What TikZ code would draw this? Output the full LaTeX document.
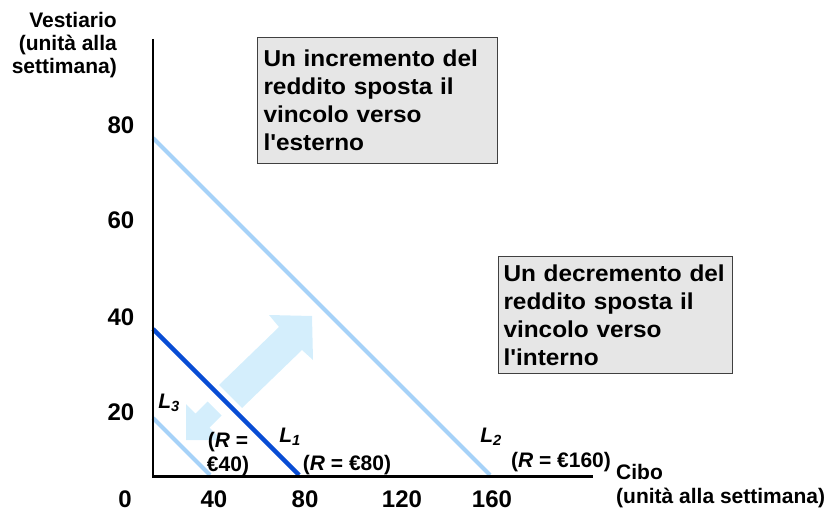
\documentclass[tikz,border=0pt]{standalone}
\usepackage{fontspec}
\setmainfont{Liberation Sans}
\newfontfamily\boxfont[FakeStretch=1.06]{Liberation Sans}
\definecolor{lone}{RGB}{8,76,212}
\definecolor{lpale}{RGB}{166,210,248}
\definecolor{arrowfill}{RGB}{212,238,252}
\definecolor{boxfill}{RGB}{230,230,230}
\definecolor{boxline}{RGB}{64,64,64}
\begin{document}
\begin{tikzpicture}[x=1pt,y=-1pt,
  axisline/.style={line width=2.5pt,black},
  budgetpale/.style={line width=4pt,lpale},
  budgetmain/.style={line width=4.5pt,lone},
  shiftarrow/.style={fill=arrowfill,draw=none},
  infobox/.style={draw=boxline,fill=boxfill,line width=1pt,align=left,anchor=north west,
    font=\boxfont\bfseries\fontsize{23}{28}\selectfont},
  ticklab/.style={font=\bfseries\fontsize{24}{28}\selectfont,inner sep=0pt},
  axislab/.style={font=\bfseries\fontsize{21}{23}\selectfont,inner sep=0pt},
  smalllab/.style={font=\bfseries\fontsize{21}{24}\selectfont,inner sep=0pt},
  linelab/.style={font=\bfseries\itshape\fontsize{21}{24}\selectfont,inner sep=0pt}]
\useasboundingbox (0,0) rectangle (832,513);

% shift arrows
\fill[shiftarrow] (219,385) -- (279,327) -- (269,315) -- (312,316) -- (313,360) -- (302,350) -- (242,408) -- cycle;
\fill[shiftarrow] (207.5,401.5) -- (195.5,413.5) -- (186,404) -- (186,440) -- (222,440) -- (209.5,427.5) -- (221.5,415.5) -- cycle;

% budget lines
\coordinate (l3a) at (153,418);
\coordinate (l3b) at (210,475);
\coordinate (l1a) at (153,329);
\coordinate (l1b) at (299,475);
\coordinate (l2a) at (153,138);
\coordinate (l2b) at (490,475);
\draw[budgetpale] (l3a) -- (l3b);
\draw[budgetpale] (l2a) -- (l2b);
\draw[budgetmain] (l1a) -- (l1b);

% axes
\coordinate (ytop) at (153,39);
\coordinate (orig) at (153,476.5);
\coordinate (xend) at (593,476.5);
\draw[axisline] (ytop) -- (orig) -- (xend);

% axis labels
\node[axislab,anchor=east,align=right] (ylab) at (117,45) {Vestiario\\(unità alla\\settimana)};
\node[axislab,anchor=west] (xlab1) at (616,472) {Cibo};
\node[axislab,anchor=west] (xlab2) at (616,498) {(unità alla settimana)};

% ticks
\node[ticklab] (y80) at (121,125) {80};
\node[ticklab] (y60) at (121,220) {60};
\node[ticklab] (y40) at (121,317) {40};
\node[ticklab] (y20) at (121,412) {20};
\node[ticklab] (x0) at (125,499) {0};
\node[ticklab] (x40) at (214,499) {40};
\node[ticklab] (x80) at (305,499) {80};
\node[ticklab] (x120) at (402,499) {120};
\node[ticklab] (x160) at (492,499) {160};

% line labels
\node[linelab] (L3) at (169,403) {L\textsubscript{3}};
\node[linelab] (L1) at (290,437) {L\textsubscript{1}};
\node[linelab] (L2) at (491,437) {L\textsubscript{2}};
\node[smalllab] (r40a) at (228,442) {(\textit{R} =};
\node[smalllab] (r40b) at (228,466) {€40)};
\node[smalllab] (r80) at (347,465) {(\textit{R} = €80)};
\node[smalllab] (r160) at (561,462) {(\textit{R} = €160)};

% boxes
\node[infobox,minimum width=240pt,minimum height=126pt,inner xsep=6pt,text width=228pt] (boxA) at (257,37)
  {Un incremento del\\reddito sposta il\\vincolo verso\\l'esterno};
\node[infobox,minimum width=234pt,minimum height=117pt,inner xsep=5pt,text width=224pt] (boxB) at (498,256)
  {Un decremento del\\reddito sposta il\\vincolo verso\\l'interno};
\end{tikzpicture}
\end{document}
